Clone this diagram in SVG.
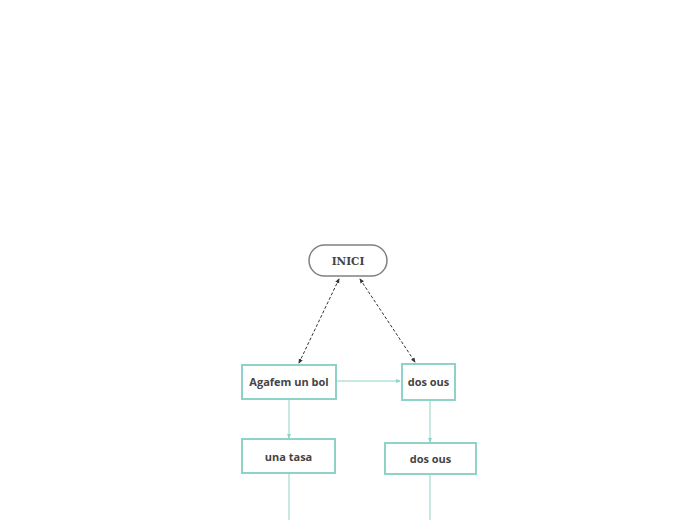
<svg xmlns="http://www.w3.org/2000/svg" width="696" height="520" viewBox="0 0 696 520">
<style>
.box{fill:#fff;stroke:#8dd3c7;stroke-width:2}
.start{fill:#fff;stroke:#808080;stroke-width:1.5}
.lbl{font-family:"Open Sans","Noto Sans",sans-serif;font-weight:bold;font-size:11px;fill:#444;text-anchor:middle}
.slbl{font-family:"DejaVu Serif","Liberation Serif",serif;font-weight:bold;font-size:10.5px;fill:#444;text-anchor:middle}
.solid{stroke:#8dd3c7;stroke-width:1;fill:none}
.dash{stroke:#333;stroke-width:1;stroke-dasharray:3,2;fill:none}
</style>
<defs>
<marker id="ta" viewBox="0 0 6 6" refX="5" refY="3" markerWidth="5" markerHeight="5" orient="auto-start-reverse"><path d="M0,0.5 L6,3 L0,5.5 z" fill="#8dd3c7"/></marker>
<marker id="da" viewBox="0 0 6 6" refX="5" refY="3" markerWidth="5" markerHeight="5" orient="auto-start-reverse"><path d="M0,0.5 L6,3 L0,5.5 z" fill="#333"/></marker>
</defs>
<rect width="696" height="520" fill="#fff"/>
<g id="connectors">
<line class="dash" x1="339" y1="279" x2="299" y2="363" marker-start="url(#da)" marker-end="url(#da)"/>
<line class="dash" x1="360" y1="279" x2="415" y2="362" marker-start="url(#da)" marker-end="url(#da)"/>
<line class="solid" x1="337" y1="381" x2="400" y2="381" marker-end="url(#ta)"/>
<line class="solid" x1="289" y1="400" x2="289" y2="438" marker-end="url(#ta)"/>
<line class="solid" x1="430" y1="401" x2="430" y2="442" marker-end="url(#ta)"/>
<line class="solid" x1="289" y1="474" x2="289" y2="520"/>
<line class="solid" x1="430" y1="475" x2="430" y2="520"/>
</g>
<g id="inici">
<rect class="start" x="309" y="245" width="78" height="31" rx="15.5"/>
<text class="slbl" x="348" y="264.5">INICI</text>
</g>
<g id="agafem">
<rect class="box" x="242" y="365" width="94" height="34"/>
<text class="lbl" x="289" y="386">Agafem un bol</text>
</g>
<g id="dosous1">
<rect class="box" x="402" y="364" width="53" height="36"/>
<text class="lbl" x="428.5" y="386">dos ous</text>
</g>
<g id="unatasa">
<rect class="box" x="242" y="439" width="93" height="34"/>
<text class="lbl" x="288.5" y="461">una tasa</text>
</g>
<g id="dosous2">
<rect class="box" x="385" y="443" width="91" height="31"/>
<text class="lbl" x="430.5" y="463">dos ous</text>
</g>
</svg>
